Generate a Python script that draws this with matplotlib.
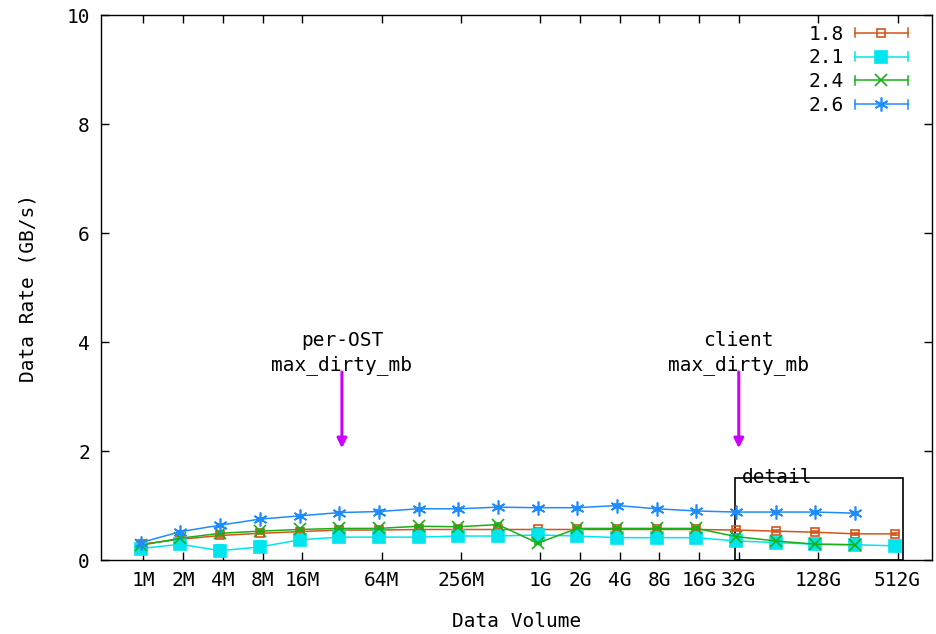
import numpy as np
import matplotlib
matplotlib.use('Agg')
import matplotlib.pyplot as plt
from matplotlib.patches import Rectangle
from matplotlib.lines import Line2D
from matplotlib.legend_handler import HandlerBase

plt.rcParams['font.family'] = ['DejaVu Sans Mono']
plt.rcParams['font.size'] = 14

# transfer sizes in MB (1M .. 512G)
sizes_mb = [2 ** k for k in range(20)]

rate_18 = [0.29, 0.38, 0.45, 0.49, 0.52, 0.55, 0.55, 0.56, 0.56, 0.56,
           0.56, 0.56, 0.56, 0.56, 0.56, 0.55, 0.53, 0.51, 0.48, 0.48]
rate_21 = [0.21, 0.29, 0.17, 0.24, 0.37, 0.42, 0.42, 0.42, 0.44, 0.44,
           0.46, 0.44, 0.41, 0.41, 0.41, 0.35, 0.32, 0.29, 0.28, 0.26]
rate_24 = [0.27, 0.40, 0.49, 0.53, 0.56, 0.58, 0.58, 0.62, 0.61, 0.65,
           0.31, 0.58, 0.58, 0.58, 0.58, 0.43, 0.35, 0.29, 0.28]
rate_26 = [0.32, 0.52, 0.64, 0.75, 0.81, 0.87, 0.89, 0.94, 0.94, 0.97,
           0.96, 0.96, 1.00, 0.94, 0.90, 0.88, 0.88, 0.88, 0.86]

err_18 = [0.02] * 20
err_21 = [0.02, 0.03, 0.10, 0.10, 0.03] + [0.02] * 15
err_24 = [0.02] * 19
err_26 = [0.02] * 19

versions = ['1.8', '2.1', '2.4', '2.6']
tick_labels = ['1M', '2M', '4M', '8M', '16M', '64M', '256M', '1G', '2G',
               '4G', '8G', '16G', '32G', '128G', '512G']
tick_mb = [1, 2, 4, 8, 16, 64, 256, 1024, 2048, 4096, 8192, 16384,
           32768, 131072, 524288]

colors = ['#d4541c', '#00e5ee', '#18b018', '#1e8cff']
markers = ['s', 's', 'x', (6, 2, 0)]
msizes = [6, 8, 8, 10]
mfc = ['none', None, None, None]


class ErrLineHandler(HandlerBase):
    # horizontal line with end caps and the marker in the middle
    def create_artists(self, legend, orig, xd, yd, width, height, fontsize, trans):
        y = height / 2 - yd
        x0, x1 = -xd, width - xd
        c = orig.get_color()
        line = Line2D([x0, x1], [y, y], color=c, lw=1.1)
        cap_h = height * 0.35
        cap0 = Line2D([x0, x0], [y - cap_h, y + cap_h], color=c, lw=1.1)
        cap1 = Line2D([x1, x1], [y - cap_h, y + cap_h], color=c, lw=1.1)
        mk = Line2D([(x0 + x1) / 2], [y], color=c, marker=orig.get_marker(),
                    ms=orig.get_markersize(), mew=1.2,
                    mfc=orig.get_markerfacecolor(), ls='none')
        arts = [line, cap0, cap1, mk]
        for a in arts:
            a.set_transform(trans)
        return arts


fig = plt.figure(figsize=(9.36, 6.34), dpi=100)
ax = fig.add_axes([0.108, 0.1167, 0.8875, 0.8596])

handles = []
series = [(rate_18, err_18), (rate_21, err_21), (rate_24, err_24), (rate_26, err_26)]
for i, (vals, errs) in enumerate(series):
    x = np.array(sizes_mb[:len(vals)]) * 1e6
    kw = dict(mfc=mfc[i]) if mfc[i] else {}
    cont = ax.errorbar(x, vals, yerr=errs, color=colors[i], marker=markers[i],
                       ms=msizes[i], mew=1.2, lw=1.1, elinewidth=1, capsize=3,
                       **kw)
    handles.append(cont.lines[0])

ax.set_xscale('log', base=2)
ax.set_xlim(5e5, 1e12)
ax.set_ylim(0, 10)
ax.set_xticks(np.array(tick_mb) * 2.0 ** 20)
ax.set_xticklabels(tick_labels)
ax.minorticks_off()
ax.set_yticks([0, 2, 4, 6, 8, 10])
ax.tick_params(direction='in', length=6, width=1, top=True, right=True, pad=8)
for s in ax.spines.values():
    s.set_linewidth(1)

ax.set_xlabel('Data Volume', labelpad=16)
ax.set_ylabel('Data Rate (GB/s)', labelpad=21)

# max_dirty_mb markers
arrow_x = [32 * 2.0 ** 20, 32 * 2.0 ** 30]
arrow_txt = ['per-OST\nmax_dirty_mb', 'client\nmax_dirty_mb']
for xa, txt in zip(arrow_x, arrow_txt):
    ax.annotate('', xy=(xa, 2.0), xytext=(xa, 3.5),
                arrowprops=dict(arrowstyle='-|>', color='#cc00ff', lw=2.2,
                                mutation_scale=14))
    ax.text(xa, 3.8, txt, ha='center', va='center', linespacing=1.35)

# detail region
ax.add_patch(Rectangle((32e9, 0), 600e9 - 32e9, 1.5, fill=False,
                       ec='black', lw=1.2))
ax.text(36e9, 1.52, 'detail', ha='left', va='center')

leg = ax.legend(handles, versions, loc='upper right', frameon=False,
                bbox_to_anchor=(0.985, 1.004),
                markerfirst=False, handlelength=2.7, handletextpad=0.6,
                borderaxespad=0.2, labelspacing=0.25,
                handler_map={Line2D: ErrLineHandler()})

fig.savefig('out.png', dpi=100)
